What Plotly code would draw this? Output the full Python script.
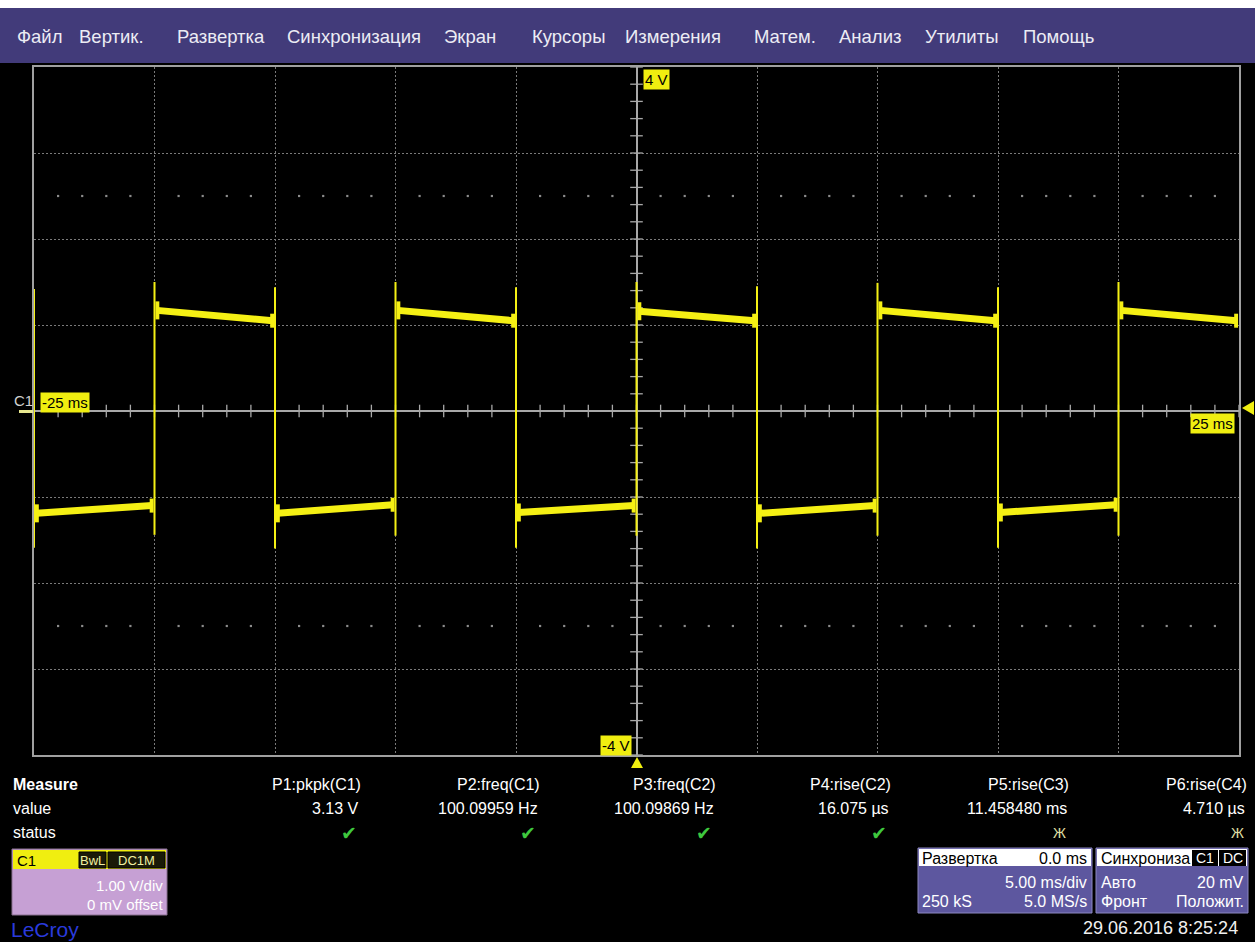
import plotly.graph_objects as go
import numpy as np

# ---------------- data ----------------
time_range_ms = [-25, 25]
volt_range = [-4, 4]

# edges of the square wave (ms); first one (at -25 ms) is a falling edge
edge_times = [-25, -20, -15, -10, -5, 0, 5, 10, 15, 20]
edge_top_v = [1.42, 1.50, 1.44, 1.50, 1.44, 1.50, 1.45, 1.49, 1.44, 1.50]
edge_bot_v = [-1.59, -1.44, -1.60, -1.45, -1.59, -1.45, -1.60, -1.45, -1.59, -1.45]

# plateau segments
seg_start_t = [-25, -20, -15, -10, -5, 0, 5, 10, 15, 20]
seg_end_t = [-20, -15, -10, -5, 0, 5, 10, 15, 20, 25]
seg_start_v = [-1.19, 1.17, -1.19, 1.17, -1.18, 1.16, -1.19, 1.17, -1.18, 1.17]
seg_mid_v = [-1.15, 1.11, -1.15, 1.11, -1.14, 1.11, -1.15, 1.11, -1.14, 1.11]
seg_end_v = [-1.10, 1.05, -1.09, 1.05, -1.10, 1.05, -1.10, 1.05, -1.09, 1.05]

menu_items = ["Файл", "Вертик.", "Развертка", "Синхронизация", "Экран", "Курсоры",
              "Измерения", "Матем.", "Анализ", "Утилиты", "Помощь"]

measure_headers = ["P1:pkpk(C1)", "P2:freq(C1)", "P3:freq(C2)", "P4:rise(C2)",
                   "P5:rise(C3)", "P6:rise(C4)"]
measure_values = ["3.13 V", "100.09959 Hz", "100.09869 Hz", "16.075 µs",
                  "11.458480 ms", "4.710 µs"]
measure_status = ["ok", "ok", "ok", "ok", "bad", "bad"]

# ---------------- layout geometry (pixels) ----------------
W, H = 1255, 942
L, R, T, B = 34, 1239, 67, 755

def px(x):
    return (x - L) / (R - L)

def py(y):
    return (B - y) / (B - T)

FONT = "Liberation Sans"
SIG = "#f5f014"
GRID = "#7a7a7a"
LBL = "#f0ee10"

fig = go.Figure()

# center-axis ticks
xt = np.arange(time_range_ms[0], time_range_ms[1] + 0.5, 1.0)
fig.add_trace(go.Scatter(x=xt, y=np.zeros_like(xt), mode="markers",
                         marker=dict(symbol="line-ns", size=9,
                                     line=dict(width=1.3, color="#a8a8a8")),
                         hoverinfo="skip", showlegend=False))
yt = np.arange(volt_range[0], volt_range[1] + 0.1, 0.2)
fig.add_trace(go.Scatter(x=np.zeros_like(yt), y=yt, mode="markers",
                         marker=dict(symbol="line-ew", size=9,
                                     line=dict(width=1.3, color="#a8a8a8")),
                         hoverinfo="skip", showlegend=False))
# dotted rows at +-2.5 div
dx = [v for v in xt if abs(v) % 5 != 0]
fig.add_trace(go.Scatter(x=dx + dx, y=[2.5] * len(dx) + [-2.5] * len(dx), mode="markers",
                         marker=dict(symbol="square", size=2.2, color="#8c8c8c"),
                         hoverinfo="skip", showlegend=False))

# edges
ex, ey = [], []
for t, top, bot in zip(edge_times, edge_top_v, edge_bot_v):
    ex += [t, t, None]
    ey += [bot, top, None]
fig.add_trace(go.Scatter(x=ex, y=ey, mode="lines", line=dict(color=SIG, width=2),
                         hoverinfo="skip", showlegend=False))

# plateaus
plx, ply = [], []
for t0, t1, v0, vm, v1 in zip(seg_start_t, seg_end_t, seg_start_v, seg_mid_v, seg_end_v):
    plx += [t0 + 0.1, (t0 + t1) / 2, t1 - 0.1, None]
    ply += [v0, vm, v1, None]
fig.add_trace(go.Scatter(x=plx, y=ply, mode="lines", line=dict(color=SIG, width=7),
                         hoverinfo="skip", showlegend=False))

# ringing blobs next to edges
bx, by = [], []
for t0, v0 in zip(seg_start_t, seg_start_v):
    bx += [t0 + 0.04, t0 + 0.2, None]
    by += [v0, v0, None]
fig.add_trace(go.Scatter(x=bx, y=by, mode="lines", line=dict(color=SIG, width=18),
                         hoverinfo="skip", showlegend=False))
bx2, by2 = [], []
for t1, v1 in zip(seg_end_t, seg_end_v):
    bx2 += [t1 - 0.2, t1 - 0.04, None]
    by2 += [v1, v1, None]
fig.add_trace(go.Scatter(x=bx2, y=by2, mode="lines", line=dict(color=SIG, width=14),
                         hoverinfo="skip", showlegend=False))

shapes = []
ann = []

def rect(x0, y0, x1, y1, fill, line=None, lw=0, layer="above"):
    shapes.append(dict(type="rect", xref="paper", yref="paper",
                       x0=px(x0), x1=px(x1), y0=py(y1), y1=py(y0),
                       fillcolor=fill, line=dict(color=line or fill, width=lw), layer=layer))

def text(s, x, y, size=16, color="white", anchor="left", bold=False, bg=None, fam=FONT, pad=0):
    if bold:
        s = "<b>" + s + "</b>"
    ann.append(dict(text=s, xref="paper", yref="paper", x=px(x), y=py(y),
                    xanchor=anchor, yanchor="middle", showarrow=False,
                    font=dict(family=fam, size=size, color=color),
                    bgcolor=bg, borderpad=pad))

# top strip + menu bar
rect(0, 0, W, 8, "#ffffff")
rect(0, 8, W, 63, "#423b7a")
menu_x = [16, 78, 176, 286, 443, 531, 624, 753, 838, 924, 1022]
for s, x in zip(menu_items, menu_x):
    text(s, x, 36, size=18.5, color="#ececf4")

# channel / time markers
text("C1", 13, 400, size=15, color="#d0d0d0")
rect(19, 410, 33, 413, "#e8e890")
text("-25 ms", 40, 402, size=15, color="black", bg=LBL, pad=1)
text("25 ms", 1235, 423, size=15, color="black", anchor="right", bg=LBL, pad=1)
text("4 V", 643, 79, size=15, color="black", bg=LBL, pad=1)
text("-4 V", 632, 745, size=15, color="black", anchor="right", bg=LBL, pad=1)
shapes.append(dict(type="path", xref="paper", yref="paper",
                   path=f"M {px(637)} {py(757)} L {px(631)} {py(768)} L {px(643)} {py(768)} Z",
                   fillcolor=LBL, line=dict(width=0)))
shapes.append(dict(type="path", xref="paper", yref="paper",
                   path=f"M {px(1242)} {py(408)} L {px(1254)} {py(401)} L {px(1254)} {py(415)} Z",
                   fillcolor=LBL, line=dict(width=0)))

# measure panel
text("Measure", 12, 784, size=16, bold=True)
text("value", 12, 808, size=16)
text("status", 12, 832, size=16)
col_right = [362, 541, 717, 892, 1070, 1248]
for hdr, val, st, xr in zip(measure_headers, measure_values, measure_status, col_right):
    text(hdr, xr, 784, size=16, anchor="right")
    text(val, xr - 2, 808, size=16, anchor="right")
    if st == "ok":
        text("✔", xr - 4, 833, size=19, color="#3ec83e", anchor="right", fam="DejaVu Sans")
    else:
        text("Ж", xr - 3, 833, size=14, color="#e0e0a8", anchor="right")

# C1 box
rect(12, 849, 167, 915, "#c6a0d4", line="#8a7090", lw=1)
rect(13, 850, 166, 869, LBL)
text("C1", 16, 860, size=15, color="black")
rect(79, 852, 106, 868, "#1a1a08", line="#000000", lw=1)
text("BwL", 92.5, 860, size=13, color="#f0f0a0", anchor="center")
rect(108, 852, 165, 868, "#1a1a08", line="#000000", lw=1)
text("DC1M", 136.5, 860, size=13, color="#f0f0a0", anchor="center")
text("1.00 V/div", 164, 885, size=15, color="white", anchor="right")
text("0 mV offset", 164, 904, size=15, color="white", anchor="right")
text("LeCroy", 10, 929, size=21, color="#2a3adc")

# timebase box
rect(918, 848, 1092, 913, "#5d579f", line="#8c88c0", lw=1)
rect(919, 849, 1091, 866, "#ffffff")
text("Развертка", 921, 858, size=16, color="black")
text("0.0 ms", 1088, 858, size=16, color="black", anchor="right")
text("5.00 ms/div", 1088, 883, size=16, anchor="right")
text("250 kS", 921, 901, size=16)
text("5.0 MS/s", 1088, 901, size=16, anchor="right")

# trigger box
rect(1096, 848, 1248, 913, "#5d579f", line="#8c88c0", lw=1)
rect(1097, 849, 1247, 866, "#ffffff")
text("Синхрониза", 1100, 858, size=16, color="black")
rect(1192, 850, 1218, 866, "#000000")
text("C1", 1205, 858, size=14, color="white", anchor="center")
rect(1219, 850, 1246, 866, "#000000")
text("DC", 1232.5, 858, size=14, color="white", anchor="center")
text("Авто", 1100, 883, size=16)
text("20 mV", 1245, 883, size=16, anchor="right")
text("Фронт", 1100, 901, size=16)
text("Положит.", 1245, 901, size=16, anchor="right")

text("29.06.2016 8:25:24", 1239, 928, size=18, color="#f0f0f0", anchor="right")

fig.update_layout(
    width=W, height=H, autosize=False,
    margin=dict(l=L, r=W - R, t=T, b=H - B, pad=0),
    paper_bgcolor="black", plot_bgcolor="black",
    showlegend=False, shapes=shapes, annotations=ann,
    xaxis=dict(range=time_range_ms, dtick=5, tick0=0, showgrid=True, gridcolor=GRID,
               griddash="2px,2px", gridwidth=1, zeroline=True, zerolinecolor="#a8a8a8",
               zerolinewidth=2, showline=True, mirror=True, linecolor="#a0a0a0",
               linewidth=2, showticklabels=False, ticks="", fixedrange=True),
    yaxis=dict(range=volt_range, dtick=1, tick0=0, showgrid=True, gridcolor=GRID,
               griddash="2px,2px", gridwidth=1, zeroline=True, zerolinecolor="#a8a8a8",
               zerolinewidth=2, showline=True, mirror=True, linecolor="#a0a0a0",
               linewidth=2, showticklabels=False, ticks="", fixedrange=True),
)

fig.write_html("out.html", config={"displayModeBar": False},
               post_script="document.body.style.margin='0px';document.body.style.overflow='hidden';document.body.style.background='black';")
